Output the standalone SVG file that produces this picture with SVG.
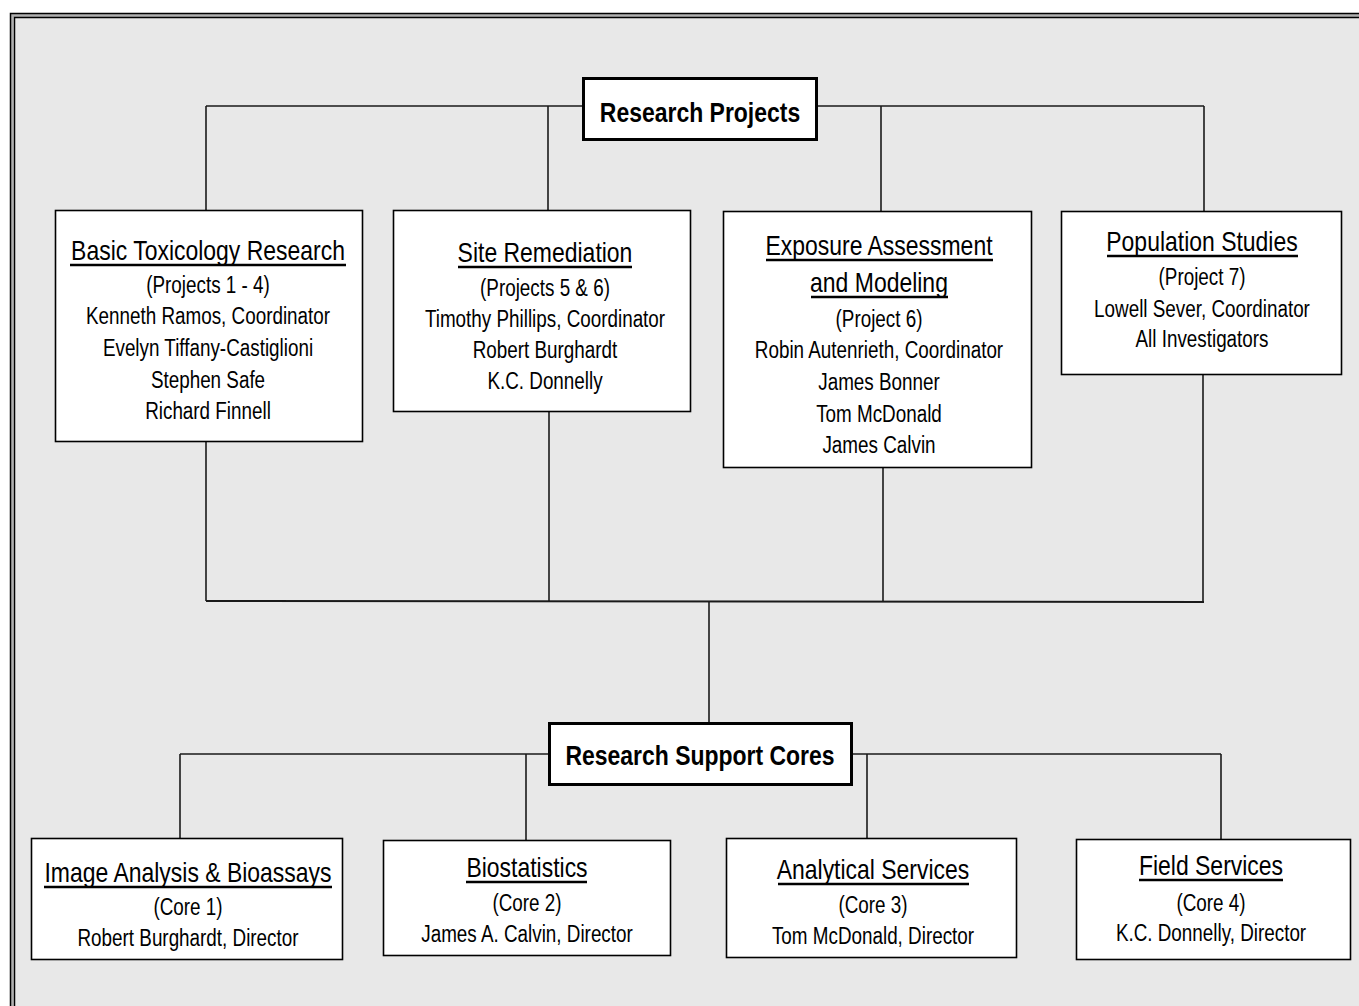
<svg xmlns="http://www.w3.org/2000/svg" width="1359" height="1006" viewBox="0 0 1359 1006">
<style>
.frame{fill:none;stroke:#000;stroke-width:1.5}
.box{fill:#fff;stroke:#000;stroke-width:1.6}
.hbox{fill:#fff;stroke:#000;stroke-width:3}
.conn line{stroke:#1a1a1a;stroke-width:1.6}
.ul{stroke:#000;stroke-width:2.5}
text{font-family:"Liberation Sans",Arial,sans-serif;fill:#000;text-anchor:middle}
.t{font-size:28px}
.b{font-size:23px}
.h{font-size:28px;font-weight:bold}
</style>
<rect x="0" y="0" width="1359" height="1006" fill="#fff"/>
<rect x="12" y="15.5" width="1400" height="1050" fill="#e8e8e8" stroke="#b0b0b0" stroke-width="3"/>
<rect class="frame" x="10.5" y="13.5" width="1400" height="1050"/>
<rect class="frame" x="14.5" y="17.5" width="1400" height="1050"/>

<g id="connectors" class="conn">
<line x1="206" y1="106" x2="1204" y2="106"/>
<line x1="206" y1="106" x2="206" y2="210"/>
<line x1="548" y1="106" x2="548" y2="210"/>
<line x1="881" y1="106" x2="881" y2="211"/>
<line x1="1204" y1="106" x2="1204" y2="211"/>
<line x1="206" y1="441" x2="206" y2="601"/>
<line x1="549" y1="411" x2="549" y2="602"/>
<line x1="883" y1="467" x2="883" y2="602"/>
<line x1="1203" y1="374" x2="1203" y2="602"/>
<line x1="206" y1="601" x2="1204" y2="602" style="stroke-width:2"/>
<line x1="709" y1="602" x2="709" y2="723"/>
<line x1="180" y1="754" x2="1221" y2="754"/>
<line x1="180" y1="754" x2="180" y2="838"/>
<line x1="526" y1="754" x2="526" y2="840"/>
<line x1="867" y1="754" x2="867" y2="838"/>
<line x1="1221" y1="754" x2="1221" y2="839"/>
</g>

<g id="research-projects">
<rect class="hbox" x="583.5" y="78.5" width="233" height="61"/>
<g transform="translate(700,0) scale(0.82,1)"><text class="h" x="0" y="122">Research Projects</text></g>
</g>

<g id="basic-toxicology">
<rect class="box" x="55.5" y="210.5" width="307" height="231"/>
<line class="ul" x1="70" y1="265" x2="346" y2="265"/>
<g transform="translate(208,0) scale(0.82,1)">
<text class="t" x="0" y="260">Basic Toxicology Research</text>
<text class="b" x="0" y="293">(Projects 1 - 4)</text>
<text class="b" x="0" y="324">Kenneth Ramos, Coordinator</text>
<text class="b" x="0" y="356">Evelyn Tiffany-Castiglioni</text>
<text class="b" x="0" y="388">Stephen Safe</text>
<text class="b" x="0" y="419">Richard Finnell</text>
</g>
</g>

<g id="site-remediation">
<rect class="box" x="393.5" y="210.5" width="297" height="201"/>
<line class="ul" x1="458" y1="267" x2="632" y2="267"/>
<g transform="translate(545,0) scale(0.82,1)">
<text class="t" x="0" y="262">Site Remediation</text>
<text class="b" x="0" y="296">(Projects 5 &amp; 6)</text>
<text class="b" x="0" y="327">Timothy Phillips, Coordinator</text>
<text class="b" x="0" y="358">Robert Burghardt</text>
<text class="b" x="0" y="389">K.C. Donnelly</text>
</g>
</g>

<g id="exposure-assessment">
<rect class="box" x="723.5" y="211.5" width="308" height="256"/>
<line class="ul" x1="766" y1="260" x2="993" y2="260"/>
<line class="ul" x1="811" y1="297" x2="948" y2="297"/>
<g transform="translate(879,0) scale(0.82,1)">
<text class="t" x="0" y="255">Exposure Assessment</text>
<text class="t" x="0" y="292">and Modeling</text>
<text class="b" x="0" y="327">(Project 6)</text>
<text class="b" x="0" y="358">Robin Autenrieth, Coordinator</text>
<text class="b" x="0" y="390">James Bonner</text>
<text class="b" x="0" y="422">Tom McDonald</text>
<text class="b" x="0" y="453">James Calvin</text>
</g>
</g>

<g id="population-studies">
<rect class="box" x="1061.5" y="211.5" width="280" height="163"/>
<line class="ul" x1="1107" y1="256" x2="1298" y2="256"/>
<g transform="translate(1202,0) scale(0.82,1)">
<text class="t" x="0" y="251">Population Studies</text>
<text class="b" x="0" y="285">(Project 7)</text>
<text class="b" x="0" y="317">Lowell Sever, Coordinator</text>
<text class="b" x="0" y="347">All Investigators</text>
</g>
</g>

<g id="research-support-cores">
<rect class="hbox" x="549.5" y="723.5" width="302" height="61"/>
<g transform="translate(700,0) scale(0.82,1)"><text class="h" x="0" y="765">Research Support Cores</text></g>
</g>

<g id="image-analysis">
<rect class="box" x="31.5" y="838.5" width="311" height="121"/>
<line class="ul" x1="44" y1="887" x2="332" y2="887"/>
<g transform="translate(188,0) scale(0.82,1)">
<text class="t" x="0" y="882">Image Analysis &amp; Bioassays</text>
<text class="b" x="0" y="915">(Core 1)</text>
<text class="b" x="0" y="946">Robert Burghardt, Director</text>
</g>
</g>

<g id="biostatistics">
<rect class="box" x="383.5" y="840.5" width="287" height="115"/>
<line class="ul" x1="466" y1="882" x2="587" y2="882"/>
<g transform="translate(527,0) scale(0.82,1)">
<text class="t" x="0" y="877">Biostatistics</text>
<text class="b" x="0" y="911">(Core 2)</text>
<text class="b" x="0" y="942">James A. Calvin, Director</text>
</g>
</g>

<g id="analytical-services">
<rect class="box" x="726.5" y="838.5" width="290" height="119"/>
<line class="ul" x1="778" y1="884" x2="969" y2="884"/>
<g transform="translate(873,0) scale(0.82,1)">
<text class="t" x="0" y="879">Analytical Services</text>
<text class="b" x="0" y="913">(Core 3)</text>
<text class="b" x="0" y="944">Tom McDonald, Director</text>
</g>
</g>

<g id="field-services">
<rect class="box" x="1076.5" y="839.5" width="274" height="120"/>
<line class="ul" x1="1139" y1="880" x2="1283" y2="880"/>
<g transform="translate(1211,0) scale(0.82,1)">
<text class="t" x="0" y="875">Field Services</text>
<text class="b" x="0" y="911">(Core 4)</text>
<text class="b" x="0" y="941">K.C. Donnelly, Director</text>
</g>
</g>
</svg>
